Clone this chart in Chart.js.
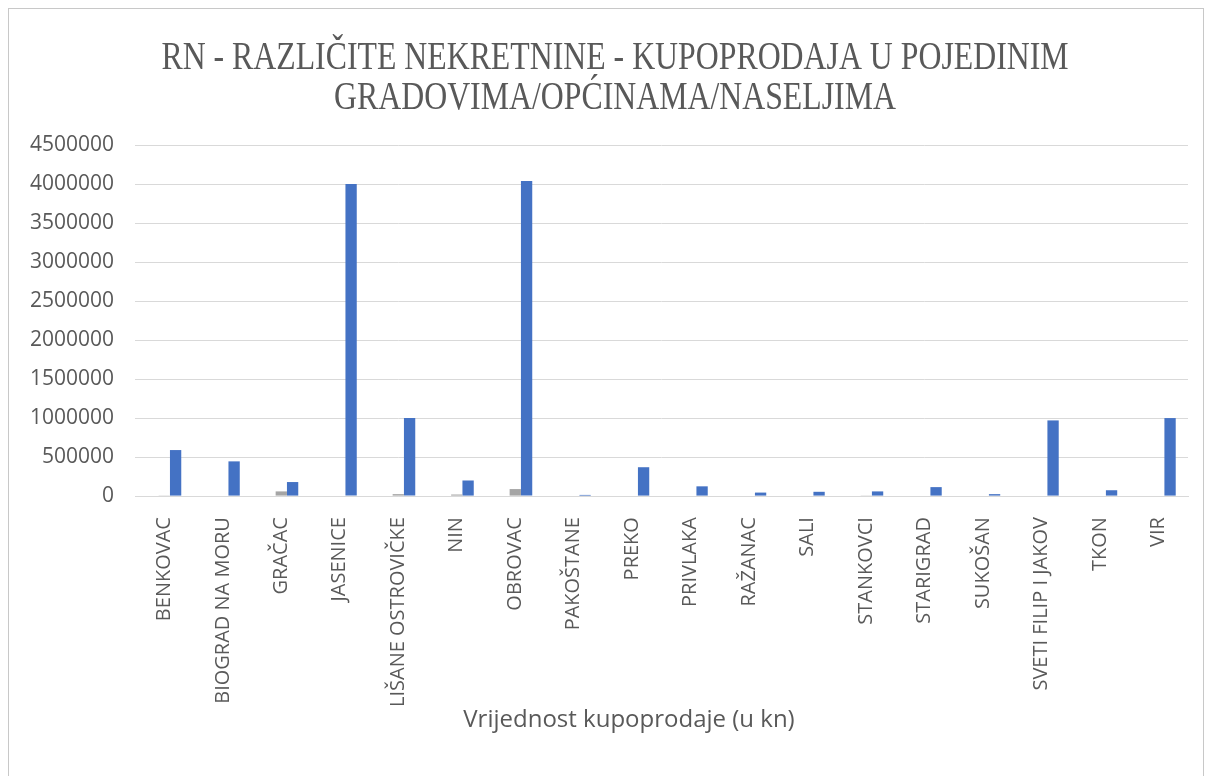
<!DOCTYPE html>
<html>
<head>
<meta charset="utf-8">
<script src="https://cdn.jsdelivr.net/npm/chart.js@4/dist/chart.umd.min.js"></script>
<style>
  body { margin: 0; background: #fff; }
  #frame { position: absolute; left: 8px; top: 8px; width: 1196px; height: 800px; border: 1px solid #c8c8c8; box-sizing: border-box; }
  #wrap { position: absolute; left: 0; top: 0; width: 1206px; height: 776px; }
</style>
</head>
<body>
<div id="frame"></div>
<div id="wrap"><canvas id="c"></canvas></div>
<script>
const categories = ['BENKOVAC', 'BIOGRAD NA MORU', 'GRAČAC', 'JASENICE', 'LIŠANE OSTROVIČKE', 'NIN', 'OBROVAC', 'PAKOŠTANE', 'PREKO',
  'PRIVLAKA', 'RAŽANAC', 'SALI', 'STANKOVCI', 'STARIGRAD', 'SUKOŠAN', 'SVETI FILIP I JAKOV', 'TKON', 'VIR'];

// first series is not visible in the picture (values ~0)
const brojKupoprodaja = [0, 0, 0, 0, 0, 0, 0, 0, 0, 0, 0, 0, 0, 0, 0, 0, 0, 0];
const povrsina = [4000, 0, 60000, 0, 25000, 20000, 90000, 0, 0, 0, 0, 0, 4000, 0, 0, 0, 0, 0];
const vrijednost = [590000, 445000, 180000, 4000000, 1000000, 200000, 4040000, 15000, 370000,
  125000, 45000, 55000, 60000, 115000, 25000, 970000, 75000, 1000000];

const titleLines = ['RN - RAZLIČITE NEKRETNINE - KUPOPRODAJA U POJEDINIM', 'GRADOVIMA/OPĆINAMA/NASELJIMA'];
const xAxisTitle = 'Vrijednost kupoprodaje (u kn)';
const yTicks = { min: 0, max: 4500000, step: 500000 };

const grey = '#595959';

// chart title (narrow serif, squeezed like the original) and the x axis title,
// which in the original sits centred on the whole chart, not on the plot
const texts = {
  id: 'texts',
  afterDraw(chart) {
    const ctx = chart.ctx;
    ctx.save();
    ctx.fillStyle = grey;
    ctx.textAlign = 'center';
    ctx.textBaseline = 'middle';
    ctx.font = '40px "Liberation Serif"';
    titleLines.forEach((line, i) => {
      ctx.save();
      ctx.translate(615, 58 + i * 40);
      ctx.scale(0.795, 1);
      ctx.fillText(line, 0, 0);
      ctx.restore();
    });
    ctx.font = '24px "Open Sans"';
    ctx.fillText(xAxisTitle, 629, 720);
    ctx.restore();
  }
};

new Chart(document.getElementById('c'), {
  type: 'bar',
  data: {
    labels: categories,
    datasets: [
      { label: 'Broj kupoprodaja', data: brojKupoprodaja, backgroundColor: '#ED7D31' },
      { label: 'Površina', data: povrsina, backgroundColor: '#A5A5A5' },
      { label: 'Vrijednost kupoprodaje (u kn)', data: vrijednost, backgroundColor: '#4472C4' }
    ]
  },
  plugins: [texts],
  options: {
    responsive: true,
    maintainAspectRatio: false,
    animation: false,
    datasets: { bar: { categoryPercentage: 0.58, barPercentage: 1 } },
    layout: { padding: { left: 9, right: 18, top: 145, bottom: 56 } },
    plugins: {
      legend: { display: false },
      tooltip: { enabled: false },
      title: { display: false }
    },
    scales: {
      x: {
        grid: { display: false },
        border: { color: '#d9d9d9', width: 1 },
        ticks: {
          color: grey,
          font: { family: 'Open Sans', size: 20 },
          maxRotation: 90, minRotation: 90, autoSkip: false, padding: 13
        }
      },
      y: {
        min: yTicks.min,
        max: yTicks.max,
        grid: { color: '#d9d9d9', drawTicks: false },
        border: { display: false },
        ticks: {
          stepSize: yTicks.step,
          color: grey,
          font: { family: 'Open Sans', size: 21 },
          padding: 21,
          callback: v => String(v)
        }
      }
    }
  }
});
</script>
</body>
</html>
